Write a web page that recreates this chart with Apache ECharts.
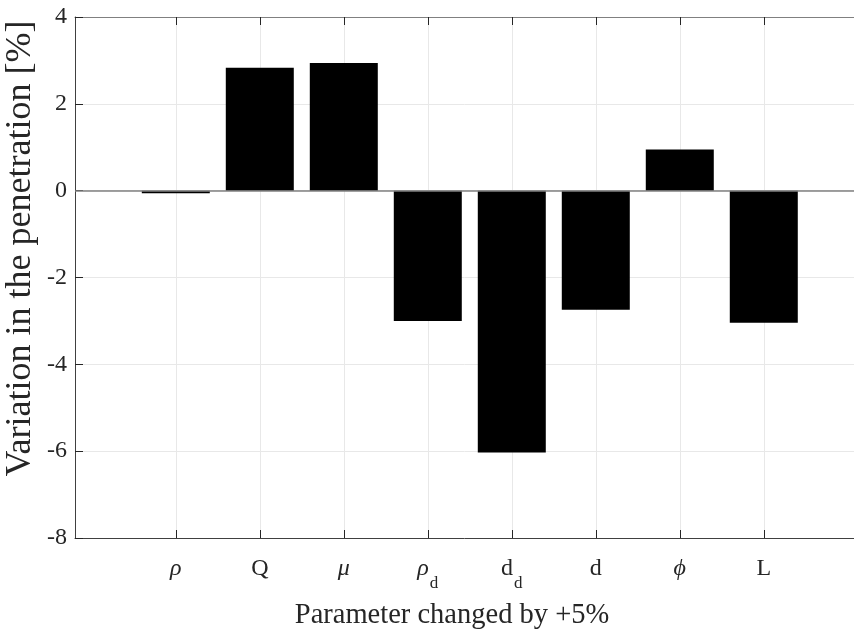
<!DOCTYPE html>
<html>
<head>
<meta charset="utf-8">
<script src="https://cdn.jsdelivr.net/npm/echarts@6/dist/echarts.min.js"></script>
<style>
  html, body { margin: 0; padding: 0; background: #fff; }
  #main { width: 854px; height: 630px; }
</style>
</head>
<body>
<div id="main"></div>
<script>
// 参数名（主体 + 下标）
const paramNames = ['ρ', 'Q', 'μ', 'ρ', 'd', 'd', 'ϕ', 'L']
const paramSubs = ['', '', '', 'd', 'd', '', '', '']
const paramItalic = [true, false, true, true, false, false, true, false]
const positions = [1, 2, 3, 4, 5, 6, 7, 8]
// 穿透深度变化 [%]
const variation = [-0.06, 2.83, 2.94, -3.0, -6.03, -2.74, 0.95, -3.04]
const yTicks = [-8, -6, -4, -2, 0, 2, 4]

const FONT = 'Liberation Serif'
const TXT = '#262626'

const dom = document.getElementById('main')
const myChart = echarts.init(dom)

function tickLabel(value) {
  const i = positions.indexOf(value)
  if (i < 0) return ''
  const main = paramItalic[i] ? '{it|' + paramNames[i] + '}' : '{rm|' + paramNames[i] + '}'
  return paramSubs[i] ? main + '{sub|' + paramSubs[i] + '}' : main
}

// x 轴右端超出画面（原图被裁切）
const X_MIN = -0.2
const X_MAX = 9.074

const option = {
  animation: false,
  backgroundColor: '#fff',
  grid: { left: 75, top: 17, right: 0, height: 521, containLabel: false, outerBoundsMode: 'none' },
  xAxis: [
    {
      type: 'value',
      position: 'bottom',
      min: X_MIN,
      max: X_MAX,
      name: 'Parameter changed by +5%',
      nameLocation: 'middle',
      nameGap: 63,
      nameTextStyle: { fontFamily: FONT, fontSize: 28.5, color: TXT, padding: [0, 25, 0, 0] },
      axisLine: { show: true, onZero: false, lineStyle: { color: '#404040', width: 1 } },
      axisTick: { show: true, inside: true, length: 8, customValues: positions, lineStyle: { color: '#262626' } },
      axisLabel: {
        show: true,
        customValues: positions,
        margin: 19,
        verticalAlign: 'top',
        formatter: tickLabel,
        rich: {
          it: { fontFamily: FONT, fontSize: 24, fontStyle: 'italic', color: TXT, lineHeight: 24, verticalAlign: 'top' },
          rm: { fontFamily: FONT, fontSize: 24, color: TXT, lineHeight: 24, verticalAlign: 'top' },
          sub: { fontFamily: FONT, fontSize: 17, color: TXT, lineHeight: 17, padding: [18, 0, 0, 1], verticalAlign: 'top' }
        }
      },
      splitLine: { show: true, lineStyle: { color: '#e8e8e8', width: 1 } }
    },
    {
      type: 'value',
      position: 'top',
      min: X_MIN,
      max: X_MAX,
      axisLine: { show: true, onZero: false, lineStyle: { color: '#808080', width: 1.2 } },
      axisTick: { show: true, inside: true, length: 8, customValues: positions, lineStyle: { color: '#262626' } },
      axisLabel: { show: false },
      splitLine: { show: false }
    }
  ],
  yAxis: {
    type: 'value',
    min: -8,
    max: 4,
    interval: 2,
    name: 'Variation in the penetration [%]',
    nameLocation: 'middle',
    nameMoveOverlap: false,
    nameGap: 36,
    nameTextStyle: { fontFamily: FONT, fontSize: 36, color: TXT, padding: [0, 0, 0, 58] },
    axisLine: { show: true, onZero: false, lineStyle: { color: '#404040', width: 1 } },
    axisTick: { show: true, inside: true, length: 8, lineStyle: { color: '#262626' } },
    axisLabel: {
      margin: 8,
      fontFamily: FONT,
      fontSize: 24,
      color: TXT,
      formatter: v => String(v)
    },
    splitLine: { show: true, lineStyle: { color: '#e8e8e8', width: 1 } }
  },
  series: [
    {
      type: 'bar',
      xAxisIndex: 0,
      data: positions.map((p, i) => [p, variation[i]]),
      barWidth: 68,
      itemStyle: { color: '#000' },
      markLine: {
        silent: true,
        symbol: 'none',
        label: { show: false },
        lineStyle: { color: '#808080', width: 1.5, type: 'solid' },
        data: [{ yAxis: 0 }]
      }
    }
  ]
}

myChart.setOption(option)
</script>
</body>
</html>
